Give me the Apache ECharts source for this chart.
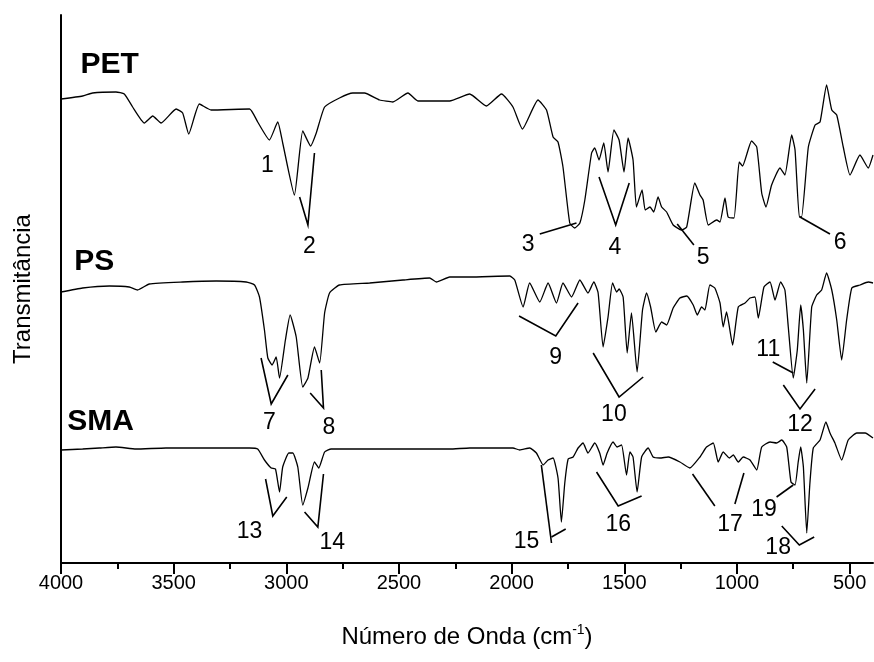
<!DOCTYPE html>
<html>
<head>
<meta charset="utf-8">
<script src="https://cdn.jsdelivr.net/npm/echarts@6/dist/echarts.min.js"></script>
<style>html,body{margin:0;padding:0;background:#fff;}#c{width:874px;height:662px;}</style>
</head>
<body>
<div id="c"></div>
<script>
// Wavenumber (cm-1) and transmittance (arbitrary units, offset per spectrum)
const petWn = [4000,3904,3860,3756,3719,3682,3630,3593,3556,3489,3460,3433,3386,3334,3163,3127,3075,3038,3016,2964,2927,2892,2867,2830,2764,2705,2653,2586,2527,2460,2416,2275,2186,2112,2045,1994,1952,1883,1845,1816,1794,1772,1742,1720,1697,1675,1645,1631,1612,1591,1572,1546,1523,1501,1483,1461,1446,1421,1407,1386,1369,1350,1334,1312,1283,1246,1223,1187,1164,1150,1127,1090,1075,1053,1039,1013,990,975,935,912,890,871,846,809,787,757,742,723,713,683,653,631,602,579,557,528,498,454,417,396];
const petT = [464,467,470,471,469,456,440,447,440,454,450,429,459,453,454,441,423,441,420,368,432,417,430,456,465,470,470,463,461,470,462,462,469,457,469,456,434,463,453,426,421,396,340,335,340,363,410,415,403,420,391,433,423,391,425,403,356,373,353,356,351,366,356,351,338,333,336,380,368,363,338,343,341,365,346,345,401,397,422,416,370,356,378,395,388,428,413,346,346,416,438,441,478,453,448,416,388,408,395,408];

const psWn = [4000,3904,3785,3697,3660,3608,3460,3311,3178,3141,3119,3097,3082,3063,3045,3030,3004,2983,2956,2927,2904,2875,2852,2830,2808,2764,2630,2482,2364,2334,2275,2186,2008,1986,1949,1920,1875,1838,1801,1772,1734,1697,1661,1635,1616,1594,1572,1552,1534,1523,1505,1487,1468,1443,1419,1401,1383,1360,1334,1312,1283,1253,1223,1194,1176,1157,1142,1120,1098,1075,1061,1046,1019,994,964,942,920,905,880,853,831,806,787,772,750,732,717,705,690,668,646,624,602,579,557,535,513,490,454,417,396];
const psT = [271,275,277,276,273,279,281,282,281,278,266,233,205,198,206,185,223,248,226,176,185,216,200,250,270,278,280,283,285,281,286,286,287,283,256,280,261,280,260,280,266,283,270,281,270,216,246,280,271,274,266,210,250,191,253,270,256,231,241,238,255,265,267,258,248,256,253,278,275,260,236,251,218,256,260,265,266,245,276,281,263,281,273,236,185,213,258,233,180,256,268,273,290,273,243,203,243,275,278,281,280];

const smaWn = [4000,3904,3830,3756,3667,3534,3311,3163,3127,3097,3067,3048,3030,3016,2989,2971,2949,2927,2904,2875,2856,2830,2801,2571,2275,2186,1994,1964,1920,1890,1860,1838,1816,1794,1779,1764,1749,1727,1705,1683,1661,1631,1609,1594,1576,1550,1532,1512,1490,1475,1461,1443,1423,1394,1372,1342,1305,1253,1209,1164,1135,1105,1083,1061,1034,1016,994,972,942,912,890,853,824,801,779,760,742,728,717,705,690,676,661,631,605,587,565,535,506,468,431,396];
const smaT = [113,114,115,116,114,115,115,115,114,103,95,94,71,96,110,110,96,58,75,101,95,111,114,114,114,115,115,113,115,110,98,103,105,85,41,80,104,106,115,120,110,120,110,98,110,121,116,118,88,111,106,71,106,115,106,105,106,101,95,106,116,120,101,111,105,108,101,106,103,93,116,121,120,123,116,81,78,101,116,96,30,80,115,123,141,130,120,103,123,130,130,125];

// Axis ticks
const majorTicks = [4000,3500,3000,2500,2000,1500,1000,500];
const minorTicks = [3750,3250,2750,2250,1750,1250,750];

// Spectrum names and their label anchor (wavenumber, transmittance)
const specNames = ['PET','PS','SMA'];
const specLabelWn = [3914,3941,3972];
const specLabelT = [498,301,141];

// Band number labels
const bandText = ['1','2','3','4','5','6','7','8','9','10','11','12','13','14','15','16','17','18','19'];
const bandWn = [3084,2897,1927,1542,1150,542,3075,2811,1804,1546,861,720,3163,2796,1934,1527,1031,817,880];
const bandT  = [397,316,318,315,305,320,140,135,205,148,213,138,31,20,21,38,38,15,53];

// Leader lines for band labels
const leaderLines = [
  [[2941,366],[2904,338],[2875,410]],
  [[1875,329],[1712,340]],
  [[1612,386],[1538,338],[1478,380]],
  [[1265,339],[1191,318]],
  [[720,346],[587,329]],
  [[3112,205],[3067,159],[2993,188]],
  [[2894,170],[2835,155],[2845,193]],
  [[1967,247],[1804,227],[1705,260]],
  [[1638,210],[1523,166],[1416,186]],
  [[841,201],[750,190]],
  [[794,178],[720,154],[653,174]],
  [[3092,84],[3060,47],[2998,66]],
  [[2919,51],[2860,36],[2835,89]],
  [[1868,98],[1823,20]],
  [[1823,26],[1760,34]],
  [[1623,91],[1527,57],[1423,67]],
  [[1197,89],[1098,57]],
  [[969,90],[1009,59]],
  [[824,66],[750,78]],
  [[801,37],[723,18],[657,26]]
];

const FONT = '"Liberation Sans", Arial, Helvetica, sans-serif';
const zip = (a, b) => a.map((v, i) => [v, b[i]]);

const chart = echarts.init(document.getElementById('c'), null, {renderer: 'canvas'});

function spectrum(name, wn, t) {
  return {
    name: name, type: 'line', xAxisIndex: 0, yAxisIndex: 0,
    data: zip(wn, t), showSymbol: false, smooth: 0.15,
    lineStyle: {color: '#000', width: 1.3}, animation: false, silent: true, z: 3
  };
}

const option = {
  backgroundColor: '#fff',
  animation: false,
  grid: {left: 61, right: 1, top: 15, bottom: 99, containLabel: false},
  xAxis: [
    {
      type: 'value', inverse: true, min: 396, max: 4000, position: 'bottom',
      splitLine: {show: false},
      axisLine: {show: true, onZero: false, lineStyle: {color: '#000', width: 2}},
      axisTick: {show: true, inside: false, length: 11, customValues: majorTicks, lineStyle: {color: '#000', width: 2}},
      axisLabel: {show: true, customValues: majorTicks, margin: 10, color: '#000', fontSize: 20, fontFamily: FONT,
        formatter: v => String(v)},
      name: 'Número de Onda (cm{sup|-1})', nameLocation: 'middle', nameGap: 60,
      nameTextStyle: {color: '#000', fontSize: 24, fontFamily: FONT,
        rich: {sup: {fontSize: 14, fontFamily: FONT, color: '#000', padding: [0, 0, 14, 0]}}}
    },
    {
      type: 'value', inverse: true, min: 396, max: 4000, position: 'bottom',
      splitLine: {show: false},
      axisLine: {show: false, onZero: false},
      axisTick: {show: true, inside: false, length: 6, customValues: minorTicks, lineStyle: {color: '#000', width: 2}},
      axisLabel: {show: false}
    }
  ],
  yAxis: {
    type: 'value', min: 0, max: 548,
    splitLine: {show: false},
    axisLine: {show: true, onZero: false, lineStyle: {color: '#000', width: 2}},
    axisTick: {show: false}, axisLabel: {show: false},
    name: 'Transmitância', nameLocation: 'middle', nameGap: 26,
    nameTextStyle: {color: '#000', fontSize: 24, fontFamily: FONT}
  },
  series: [
    spectrum('PET', petWn, petT),
    spectrum('PS', psWn, psT),
    spectrum('SMA', smaWn, smaT),
    {
      type: 'lines', coordinateSystem: 'cartesian2d', polyline: true, silent: true,
      data: leaderLines.map(c => ({coords: c})),
      lineStyle: {color: '#000', width: 1.6, opacity: 1}, z: 4
    },
    {
      type: 'scatter', symbolSize: 0, silent: true, z: 5,
      itemStyle: {opacity: 1, color: '#000'},
      data: bandText.map((t, i) => ({value: [bandWn[i], bandT[i]], name: t})),
      label: {show: true, position: 'inside', formatter: p => p.name, color: '#000', opacity: 1,
        fontSize: 23, fontFamily: FONT, align: 'center', verticalAlign: 'middle'}
    },
    {
      type: 'scatter', symbolSize: 0, silent: true, z: 5,
      itemStyle: {opacity: 1, color: '#000'},
      data: specNames.map((t, i) => ({value: [specLabelWn[i], specLabelT[i]], name: t})),
      label: {show: true, position: [0, 0], formatter: p => p.name, color: '#000', opacity: 1,
        fontSize: 30, fontWeight: 'bold', fontFamily: FONT, align: 'left', verticalAlign: 'middle'}
    }
  ]
};
chart.setOption(option);
</script>
</body>
</html>
